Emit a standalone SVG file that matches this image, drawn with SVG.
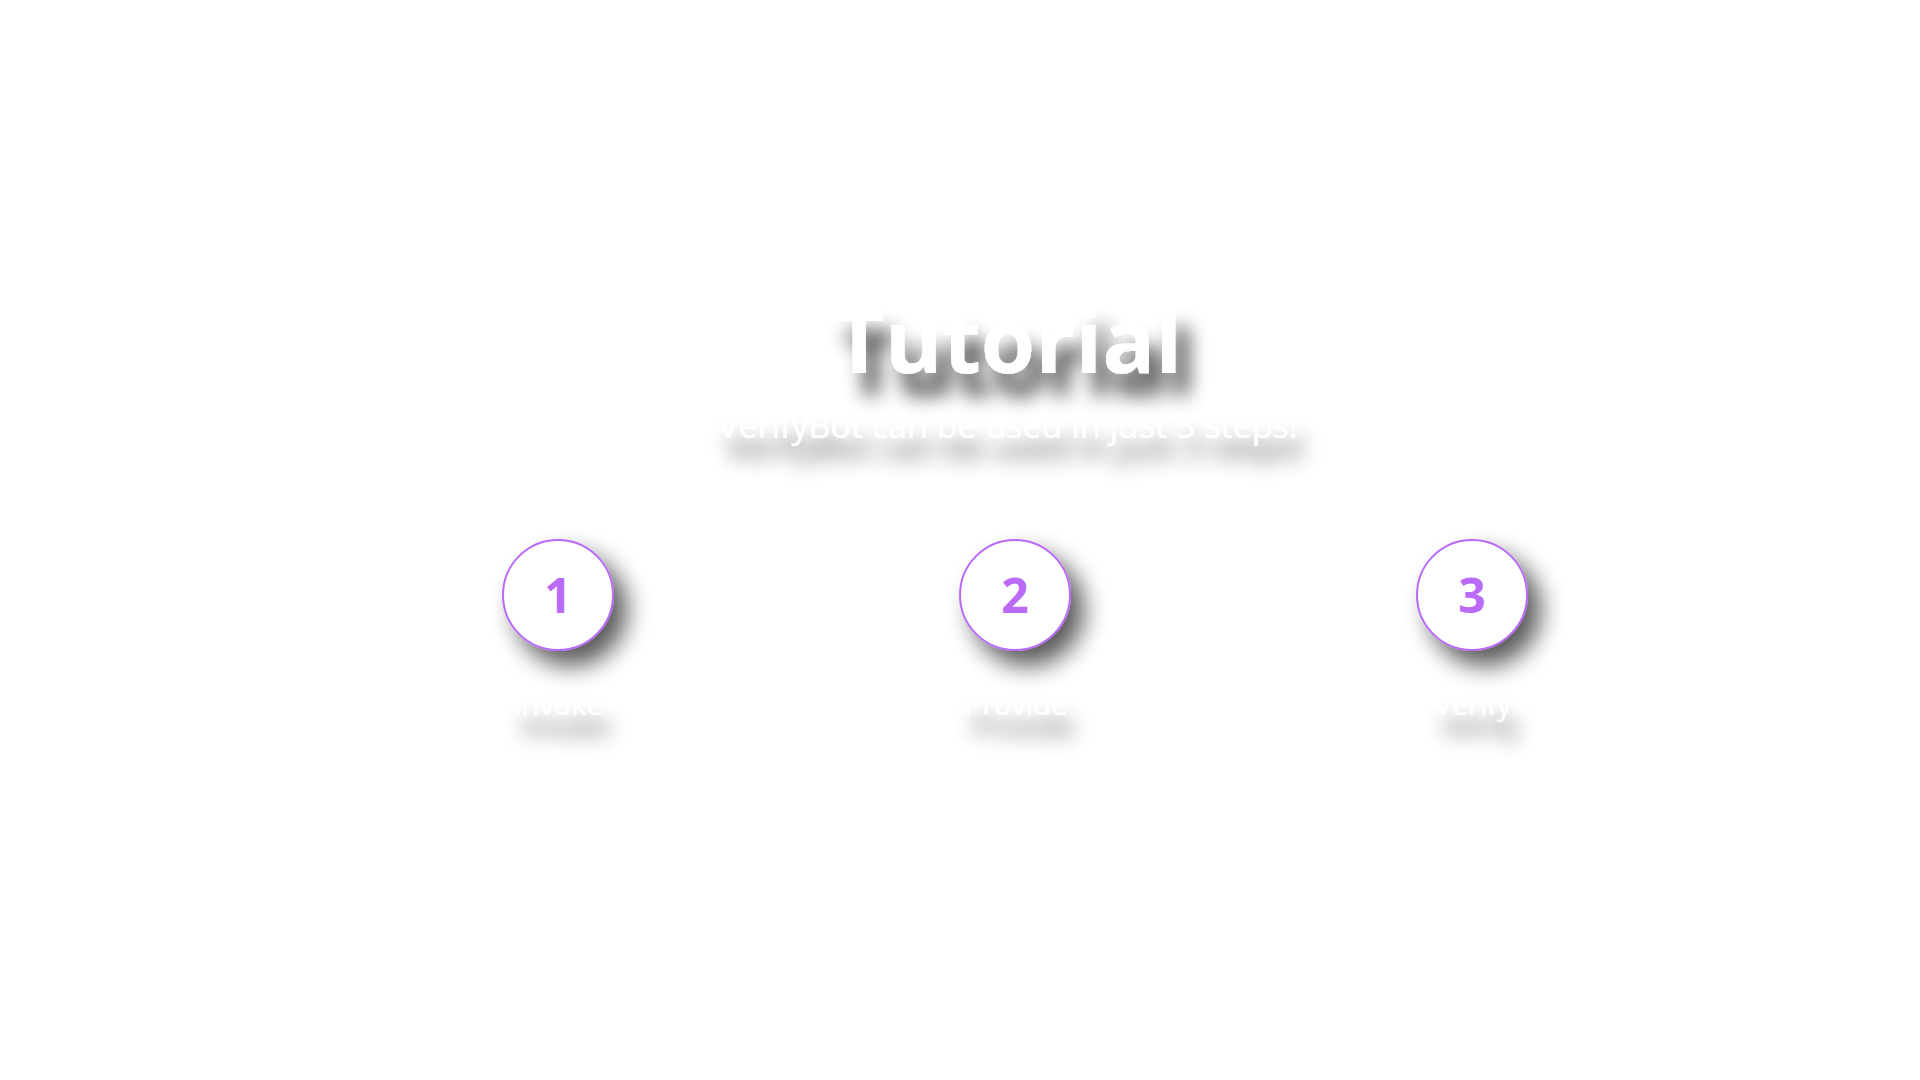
<svg xmlns="http://www.w3.org/2000/svg" width="1920" height="1080" viewBox="0 0 1920 1080">
  <defs>
    <filter id="shadowTitle" x="-30%" y="-60%" width="170%" height="260%">
      <feGaussianBlur in="SourceAlpha" stdDeviation="10"/>
      <feOffset dx="12" dy="22"/>
      <feComponentTransfer><feFuncA type="linear" slope="0.8"/></feComponentTransfer>
      <feMerge><feMergeNode/><feMergeNode in="SourceGraphic"/></feMerge>
    </filter>
    <filter id="shadowText" x="-30%" y="-100%" width="170%" height="380%">
      <feGaussianBlur in="SourceAlpha" stdDeviation="10"/>
      <feOffset dx="8" dy="22"/>
      <feComponentTransfer><feFuncA type="linear" slope="0.65"/></feComponentTransfer>
      <feMerge><feMergeNode/><feMergeNode in="SourceGraphic"/></feMerge>
    </filter>
    <filter id="shadowCircle" x="-60%" y="-60%" width="240%" height="240%">
      <feGaussianBlur in="SourceAlpha" stdDeviation="12"/>
      <feOffset dx="13" dy="15"/>
      <feComponentTransfer><feFuncA type="linear" slope="0.65"/></feComponentTransfer>
      <feMerge><feMergeNode/><feMergeNode in="SourceGraphic"/></feMerge>
    </filter>
  </defs>
  <style>
    .title { font-family: "Open Sans", "Liberation Sans", sans-serif; font-weight: 700; font-size: 88px; fill: #ffffff; }
    .sub { font-family: "Open Sans", "Liberation Sans", sans-serif; font-size: 34px; fill: #ffffff; }
    .label { font-family: "Open Sans", "Liberation Sans", sans-serif; font-size: 29px; fill: #ffffff; }
    .ring { fill: #ffffff; stroke: #b96bf8; stroke-width: 2; }
    .num { font-family: "Open Sans", "Liberation Sans", sans-serif; font-weight: 700; font-size: 48px; fill: #b96bf8; }
  </style>
  <rect width="1920" height="1080" fill="#ffffff"/>

  <g id="heading">
    <text class="title" x="1008" y="373" text-anchor="middle" filter="url(#shadowTitle)">Tutorial</text>
    <text class="sub" x="1008" y="438" text-anchor="middle" filter="url(#shadowText)">VerifyBot can be used in just 3 steps!</text>
  </g>

  <g id="step1">
    <circle class="ring" cx="558" cy="595" r="55" filter="url(#shadowCircle)"/>
    <text class="num" x="558" y="613" text-anchor="middle">1</text>
    <text class="label" x="558" y="715" text-anchor="middle" filter="url(#shadowText)">Invoke</text>
  </g>

  <g id="step2">
    <circle class="ring" cx="1015" cy="595" r="55" filter="url(#shadowCircle)"/>
    <text class="num" x="1015" y="613" text-anchor="middle">2</text>
    <text class="label" x="1016" y="715" text-anchor="middle" filter="url(#shadowText)">Provide</text>
  </g>

  <g id="step3">
    <circle class="ring" cx="1472" cy="595" r="55" filter="url(#shadowCircle)"/>
    <text class="num" x="1472" y="613" text-anchor="middle">3</text>
    <text class="label" x="1473" y="715" text-anchor="middle" filter="url(#shadowText)">Verify</text>
  </g>

  <g id="connectors"/>
</svg>
